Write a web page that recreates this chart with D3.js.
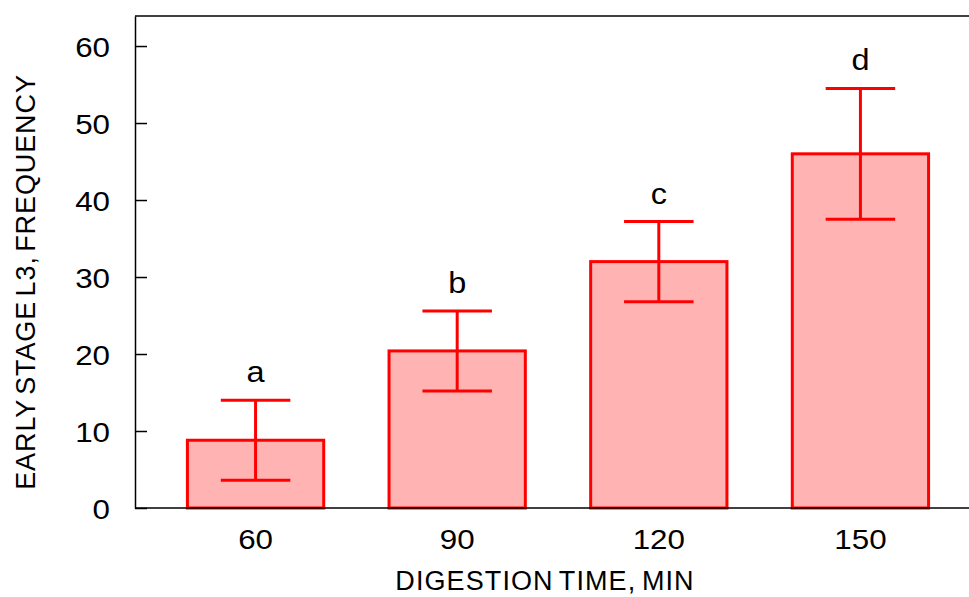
<!DOCTYPE html>
<html>
<head>
<meta charset="utf-8">
<script src="https://cdn.jsdelivr.net/npm/d3@7"></script>
<style>
  body { margin: 0; background: #fff; }
  text { font-family: "Liberation Sans", Arial, sans-serif; }
</style>
</head>
<body>
<div id="wrapper"></div>
<script>
// Chart data
const times = ["60", "90", "120", "150"]
const means = [8.8, 20.4, 32.0, 46.0]
const errors = [5.2, 5.2, 5.2, 8.5]
const letters = ["a", "b", "c", "d"]
const yTicks = [0, 10, 20, 30, 40, 50, 60]

let dimensions = {
  width: 969,
  height: 597,
  margin: { top: 16, right: 0, bottom: 89, left: 135 }
}
dimensions.boundedWidth = dimensions.width - dimensions.margin.left - dimensions.margin.right
dimensions.boundedHeight = dimensions.height - dimensions.margin.top - dimensions.margin.bottom

// the original text looks a little wider than Arial
const stretch = 1.12

const wrapper = d3.select('#wrapper').append('svg')
  .attr('width', dimensions.width)
  .attr('height', dimensions.height)
const bounds = wrapper.append('g')
  .attr('transform', `translate(${dimensions.margin.left},${dimensions.margin.top})`)

// Scales
const yScale = d3.scaleLinear().domain([0, 63.9]).range([dimensions.boundedHeight, 0])

// band scale runs a bit past the right edge, like the original
const xScale = d3.scaleBand()
  .domain(times)
  .range([0, 846])
  .paddingInner(0.324)
  .paddingOuter(0.26)

const bw = xScale.bandwidth()
const cx = d => xScale(d) + bw / 2

// Bars
bounds.append('g').selectAll('rect')
  .data(times)
  .join('rect')
  .attr('x', d => xScale(d))
  .attr('y', (d, i) => yScale(means[i]))
  .attr('width', bw)
  .attr('height', (d, i) => yScale(0) - yScale(means[i]))
  .attr('fill', '#ffb3b3')
  .attr('stroke', '#ff0000')
  .attr('stroke-width', 3)

// Error bars
const errG = bounds.append('g').attr('stroke', '#ff0000').attr('stroke-width', 3)
const capHalf = bw * 0.255
times.forEach((t, i) => {
  const hi = yScale(means[i] + errors[i])
  const lo = yScale(means[i] - errors[i])
  errG.append('line').attr('x1', cx(t)).attr('x2', cx(t)).attr('y1', hi).attr('y2', lo)
  errG.append('line').attr('x1', cx(t) - capHalf).attr('x2', cx(t) + capHalf).attr('y1', hi).attr('y2', hi)
  errG.append('line').attr('x1', cx(t) - capHalf).attr('x2', cx(t) + capHalf).attr('y1', lo).attr('y2', lo)
})

// Significance letters
bounds.append('g').selectAll('text')
  .data(times)
  .join('text')
  .attr('transform', (d, i) => `translate(${cx(d)},${yScale(means[i] + errors[i]) - 18}) scale(${stretch},1)`)
  .attr('text-anchor', 'middle')
  .style('font-size', '29px')
  .attr('fill', 'black')
  .text((d, i) => letters[i])

// Axes
const yAxis = bounds.append('g')
  .call(d3.axisLeft(yScale).tickValues(yTicks).tickSizeInner(-12).tickSizeOuter(0).tickPadding(25))
yAxis.select('.domain').attr('stroke-width', 1.5)
yAxis.selectAll('.tick line').attr('stroke-width', 1.5)
yAxis.selectAll('.tick text')
  .style('font-size', '28px')
  .attr('dy', '0.38em')
  .attr('x', -25 / stretch)
  .attr('transform', `scale(${stretch},1)`)

const xAxis = bounds.append('g')
  .attr('transform', `translate(0,${dimensions.boundedHeight})`)
  .call(d3.axisBottom(xScale).tickSize(0).tickPadding(21))
xAxis.select('.domain').remove()
xAxis.selectAll('.tick text')
  .style('font-size', '28px')
  .attr('transform', `scale(${stretch},1)`)

// frame lines: bottom and top
bounds.append('line')
  .attr('x1', 0).attr('x2', dimensions.boundedWidth)
  .attr('y1', dimensions.boundedHeight).attr('y2', dimensions.boundedHeight)
  .attr('stroke', 'black').attr('stroke-width', 1.5)
bounds.append('line')
  .attr('x1', 0).attr('x2', dimensions.boundedWidth)
  .attr('y1', 0).attr('y2', 0)
  .attr('stroke', 'black').attr('stroke-width', 1.5)

// Axis labels
wrapper.append('text')
  .attr('x', 545)
  .attr('y', 590)
  .attr('text-anchor', 'middle')
  .style('font-size', '27px')
  .style('letter-spacing', '1.1px')
  .style('word-spacing', '-3px')
  .text('DIGESTION TIME, MIN')

wrapper.append('text')
  .attr('transform', 'translate(35,282) rotate(-90)')
  .attr('text-anchor', 'middle')
  .style('font-size', '27px')
  .style('letter-spacing', '0.9px')
  .style('word-spacing', '-4px')
  .text('EARLY STAGE L3, FREQUENCY')
</script>
</body>
</html>
